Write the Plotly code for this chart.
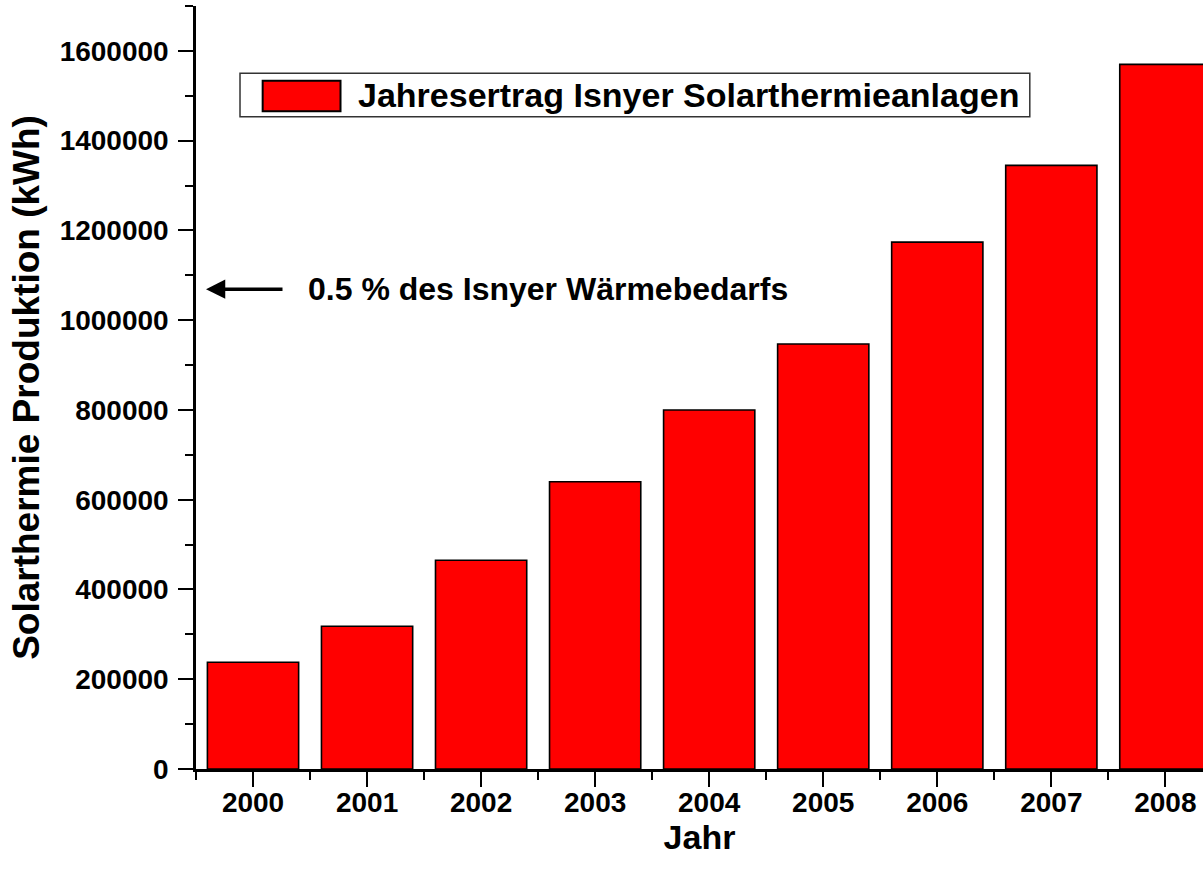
import plotly.graph_objects as go

# yearly yield of solar thermal systems in Isny
years = [2000, 2001, 2002, 2003, 2004, 2005, 2006, 2007, 2008]
ertrag_kwh = [238000, 318000, 465000, 640000, 800000, 947000, 1174000, 1345000, 1570000]
y_ticks = [0, 200000, 400000, 600000, 800000, 1000000, 1200000, 1400000, 1600000]
legend_label = "Jahresertrag Isnyer Solarthermieanlagen"
note_text = "0.5 % des Isnyer Wärmebedarfs"
note_level = 1069000

FONT = "Liberation Sans, Arial, sans-serif"

fig = go.Figure()
fig.add_trace(go.Bar(
    x=years,
    y=ertrag_kwh,
    width=0.8,
    marker=dict(color="#FF0000", line=dict(color="black", width=1.6)),
    name=legend_label,
    showlegend=False,
))

axis_common = dict(
    showgrid=False, zeroline=False,
    showline=True, linecolor="black", linewidth=2.5,
    ticks="outside", ticklen=15, tickwidth=2, tickcolor="black",
    tickfont=dict(family=FONT, size=28, color="black", weight="bold"),
)

fig.update_xaxes(
    **axis_common,
    range=[1999.5, 2008.33],
    tickvals=years, ticktext=[str(y) for y in years],
    minor=dict(ticks="outside", tick0=1999.5, dtick=1, ticklen=8, tickwidth=2, tickcolor="black"),
    ticklabelstandoff=-8,
    title=dict(text="Jahr", font=dict(family=FONT, size=34, color="black", weight="bold"), standoff=2),
)
fig.update_yaxes(
    **axis_common,
    range=[0, 1700000],
    tickvals=y_ticks, ticktext=[str(v) for v in y_ticks],
    minor=dict(ticks="outside", dtick=100000, ticklen=8, tickwidth=2, tickcolor="black"),
    ticklabelstandoff=4,
    title=dict(text="Solarthermie Produktion (kWh)",
               font=dict(family=FONT, size=37, color="black", weight="bold"), standoff=9),
)

# hand drawn legend box like the original
fig.add_shape(type="rect", xref="paper", yref="paper",
              x0=0.0437, x1=0.828, y0=0.855, y1=0.912,
              line=dict(color="#333333", width=1.5), fillcolor="white")
fig.add_shape(type="rect", xref="paper", yref="paper",
              x0=0.0662, x1=0.1435, y0=0.862, y1=0.902,
              line=dict(color="black", width=2), fillcolor="#FF0000")
fig.add_annotation(x=0.159, y=0.8835, xref="paper", yref="paper",
                   text=legend_label, showarrow=False, xanchor="left", yanchor="middle",
                   font=dict(family=FONT, size=34, color="black", weight="bold"))

# arrow pointing at the y axis
fig.add_annotation(x=1999.5, y=note_level, xref="x", yref="y", text="",
                   showarrow=True, ax=88, ay=0, standoff=10,
                   arrowhead=2, arrowsize=1.1, arrowwidth=3.5, arrowcolor="black")
fig.add_annotation(x=0.109, y=note_level, xref="paper", yref="y",
                   text=note_text, showarrow=False, xanchor="left", yanchor="middle",
                   font=dict(family=FONT, size=32, color="black", weight="bold"))

fig.update_layout(
    width=1203, height=877,
    paper_bgcolor="white", plot_bgcolor="white",
    margin=dict(l=196, r=0, t=6, b=108),
    bargap=0.2,
)

fig.write_html("out.html", config={"displayModeBar": False},
               post_script="document.body.style.margin='0';")
